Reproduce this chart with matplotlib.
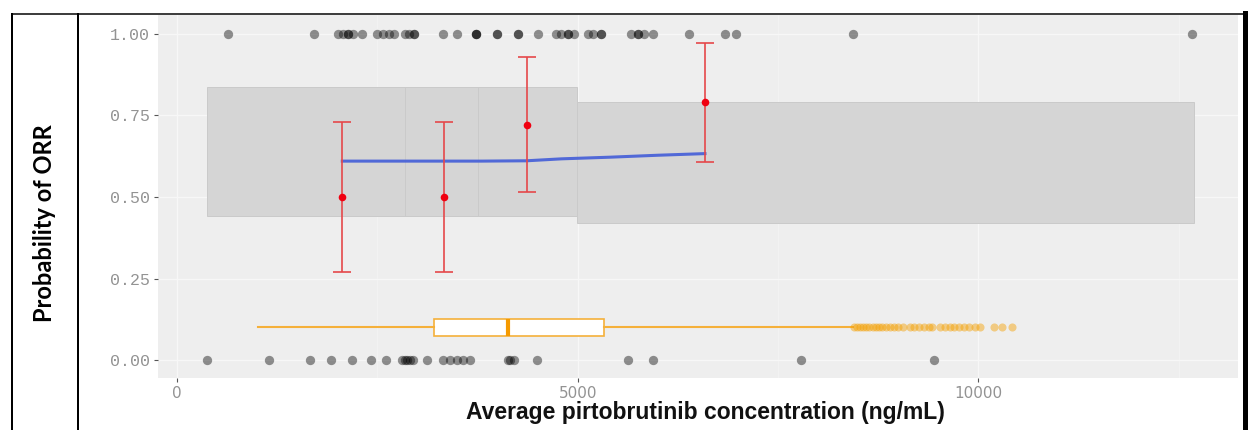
import matplotlib
matplotlib.use("Agg")
import matplotlib.pyplot as plt
from matplotlib.lines import Line2D
from matplotlib.patches import Rectangle

# observed responders (1) and non-responders (0)
ones_x = [640, 1710, 2010, 2075, 2140, 2140, 2200, 2310, 2500, 2575, 2650, 2710,
          2850, 2900, 2960, 2960, 3325, 3500, 3725, 3725, 3725, 3990, 3990,
          4260, 4260, 4500, 4725, 4790, 4875, 4875, 4950, 5125, 5190, 5290, 5290,
          5660, 5750, 5750, 5825, 5940, 6390, 6840, 6975, 8440, 12660]
zeros_x = [375, 1150, 1660, 1925, 2190, 2425, 2610, 2810, 2840, 2875, 2910, 2940,
           3125, 3325, 3410, 3500, 3575, 3660, 4125, 4160, 4200, 4490, 5625, 5940,
           7790, 9450]

# quartile bins: 95% CI band of the model
bin_edges = [375, 2850, 3750, 4988, 12690]
bin_lo = [0.442, 0.442, 0.442, 0.420]
bin_hi = [0.836, 0.836, 0.836, 0.791]

# observed proportion per quartile with 95% CI
obs_x = [2063, 3338, 4363, 6588]
obs_p = [0.50, 0.50, 0.72, 0.79]
obs_lo = [0.27, 0.27, 0.515, 0.607]
obs_hi = [0.73, 0.73, 0.93, 0.972]

# logistic model fit
fit_x = [2063, 3000, 3800, 4363, 4800, 5400, 6000, 6588]
fit_p = [0.610, 0.610, 0.610, 0.611, 0.617, 0.622, 0.628, 0.633]

# concentration distribution boxplot
box_whislo, box_q1, box_med, box_q3, box_whishi = 1012, 3213, 4125, 5325, 8440
box_fliers = [8450, 8480, 8520, 8560, 8600, 8640, 8680, 8720, 8760, 8800, 8850,
              8900, 8950, 9000, 9060, 9150, 9200, 9260, 9320, 9380, 9420, 9520,
              9580, 9640, 9700, 9760, 9820, 9880, 9960, 10020, 10200, 10290,
              10420]

W, H = 1248, 430
fig = plt.figure(figsize=(W / 100, H / 100), dpi=100)
fig.patch.set_facecolor("white")


def fx(px):
    return px / W


def fy(py):
    return 1 - py / H


ax = fig.add_axes([fx(158), fy(378), fx(1238) - fx(158), fy(15) - fy(378)])
ax.set_facecolor("#eeeeee")
for s in ax.spines.values():
    s.set_visible(False)

ax.set_xlim(-237, 13240)
ax.set_ylim(-0.055, 1.058)
ax.set_xticks([0, 5000, 10000])
ax.set_xticks([2500, 7500, 12500], minor=True)
ax.set_yticks([0, 0.25, 0.5, 0.75, 1.0])
ax.set_yticklabels(["0.00", "0.25", "0.50", "0.75", "1.00"])
ax.grid(True, which="major", color="#f7f7f7", linewidth=1.0)
ax.grid(True, which="minor", axis="x", color="#f3f3f3", linewidth=0.6)
ax.set_axisbelow(True)
ax.tick_params(axis="x", which="minor", length=0)
ax.tick_params(axis="both", which="major", color="#555555", length=3,
               width=0.8, labelcolor="#939393", pad=3)
for lab in ax.get_yticklabels():
    lab.set_family(["Liberation Mono", "DejaVu Sans Mono"])
    lab.set_fontsize(12)
for lab in ax.get_xticklabels():
    lab.set_family(["Liberation Sans Narrow", "DejaVu Sans"])
    lab.set_fontsize(11)

# CI bands
for i in range(len(bin_lo)):
    ax.add_patch(Rectangle((bin_edges[i], bin_lo[i]),
                           bin_edges[i + 1] - bin_edges[i],
                           bin_hi[i] - bin_lo[i],
                           facecolor="#d5d5d5", edgecolor="#cacaca",
                           linewidth=0.7, zorder=1))

# raw points
ax.scatter(ones_x, [1.0] * len(ones_x), s=45, color="black", alpha=0.42,
           linewidths=0, zorder=3)
ax.scatter(zeros_x, [0.0] * len(zeros_x), s=45, color="black", alpha=0.42,
           linewidths=0, zorder=3)

# fitted curve
ax.plot(fit_x, fit_p, color="#4a63d8", linewidth=2.2, alpha=0.95, zorder=4)

# observed proportions
yerr = [[p - lo for p, lo in zip(obs_p, obs_lo)],
        [hi - p for p, hi in zip(obs_p, obs_hi)]]
ax.errorbar(obs_x, obs_p, yerr=yerr, fmt="none", ecolor="#e5484a",
            elinewidth=1.2, capsize=6.5, capthick=1.2, zorder=5)
ax.scatter(obs_x, obs_p, s=30, color="#f00010", linewidths=0, zorder=6)

# boxplot of exposure
stats = [dict(whislo=box_whislo, q1=box_q1, med=box_med, q3=box_q3,
              whishi=box_whishi, fliers=[])]
ax.bxp(stats, positions=[0.10], widths=0.052, orientation="horizontal",
       showcaps=False, patch_artist=True, manage_ticks=False,
       boxprops=dict(facecolor="white", edgecolor="#f5b03a", linewidth=1.2),
       whiskerprops=dict(color="#f5b03a", linewidth=1.5),
       medianprops=dict(color="#f59a00", linewidth=3), zorder=4)
ax.scatter(box_fliers, [0.10] * len(box_fliers), s=34, color="#f5a000",
           alpha=0.45, linewidths=0, zorder=4)

# table-like frame
lines = [((12, 12), (14, 430), 2.0),
         ((78, 78), (14, 430), 2.0),
         ((12, 1248), (14, 14), 1.5),
         ((1244.5, 1244.5), (13, 430), 5.0)]
for xs, ys, lw in lines:
    fig.add_artist(Line2D([fx(x) for x in xs], [fy(y) for y in ys],
                          color="black", linewidth=lw * 0.72))

fig.text(fx(45), fy(223), "Probability of ORR", rotation=90, ha="center",
         va="center", fontsize=17, fontweight="bold",
         family=["Lato", "DejaVu Sans"], color="black")
fig.text(fx(705), fy(413), "Average pirtobrutinib concentration (ng/mL)",
         ha="center", va="center", fontsize=16.5, fontweight="bold",
         family=["Liberation Sans", "DejaVu Sans"], color="#111111")

fig.savefig("out.png", dpi=100)
